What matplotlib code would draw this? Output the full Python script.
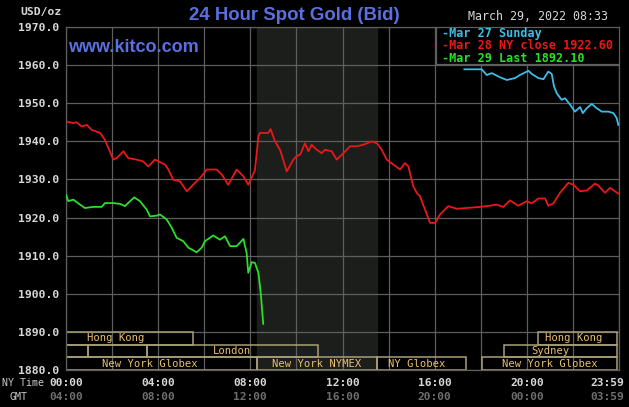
import matplotlib
matplotlib.use('Agg')
import matplotlib.pyplot as plt
from matplotlib.patches import Rectangle
import matplotlib.transforms as mtransforms

# Mar 27 Sunday (evening session only)
sun_hours = [17.29, 18.04, 18.26, 18.48, 18.84, 19.13, 19.49, 19.70, 20.07, 20.21,
             20.50, 20.72, 20.93, 21.08, 21.18, 21.30, 21.51, 21.66, 21.88, 22.09,
             22.31, 22.43, 22.60, 22.82, 23.03, 23.25, 23.54, 23.76, 23.90, 23.97]
sun_prices = [1958.9, 1958.9, 1957.4, 1957.9, 1956.8, 1956.1, 1956.6, 1957.4, 1958.5, 1957.7,
              1956.6, 1956.3, 1958.3, 1957.7, 1954.4, 1952.6, 1950.9, 1951.3, 1949.6, 1947.8,
              1949.0, 1947.4, 1948.7, 1949.8, 1948.7, 1947.8, 1947.8, 1947.4, 1946.1, 1944.3]

# Mar 28 NY close
mon_hours = [0.0, 0.32, 0.46, 0.68, 0.90, 1.12, 1.48, 1.69, 2.05, 2.20,
             2.49, 2.70, 3.07, 3.36, 3.57, 3.86, 4.30, 4.44, 4.66, 4.95,
             5.24, 5.60, 5.82, 6.11, 6.54, 6.76, 7.04, 7.41, 7.70, 7.91,
             8.20, 8.35, 8.42, 8.78, 8.88, 9.07, 9.29, 9.58, 9.87, 10.01,
             10.16, 10.23, 10.37, 10.52, 10.66, 10.88, 11.10, 11.24, 11.53, 11.75,
             12.04, 12.33, 12.62, 12.90, 13.27, 13.49, 13.70, 13.92, 14.21, 14.50,
             14.71, 14.86, 15.07, 15.22, 15.36, 15.58, 15.80, 16.02, 16.23, 16.59,
             16.96, 17.97, 18.40, 18.69, 18.98, 19.27, 19.63, 20.00, 20.21, 20.50,
             20.79, 20.93, 21.15, 21.44, 21.80, 22.02, 22.31, 22.60, 22.96, 23.10,
             23.39, 23.61, 23.97]
mon_prices = [1945.2, 1944.8, 1945.0, 1943.9, 1944.3, 1943.0, 1942.2, 1940.4, 1935.2, 1935.6,
              1937.4, 1935.6, 1935.2, 1934.7, 1933.4, 1935.2, 1933.9, 1932.6, 1929.9, 1929.5,
              1926.9, 1929.1, 1930.4, 1932.6, 1932.6, 1931.3, 1928.6, 1932.6, 1930.8, 1928.6,
              1932.4, 1941.3, 1942.2, 1942.2, 1943.2, 1940.0, 1937.8, 1932.1, 1935.2, 1936.1,
              1936.5, 1937.4, 1939.5, 1937.4, 1939.1, 1937.8, 1936.9, 1937.8, 1937.4, 1935.2,
              1936.9, 1938.7, 1938.7, 1939.1, 1940.0, 1939.5, 1937.8, 1935.2, 1933.9, 1932.6,
              1934.3, 1933.4, 1928.2, 1926.5, 1925.6, 1922.1, 1918.6, 1918.6, 1920.8, 1923.0,
              1922.3, 1922.8, 1923.1, 1923.4, 1922.8, 1924.5, 1923.1, 1924.3, 1923.7, 1925.0,
              1925.0, 1923.1, 1923.7, 1926.5, 1929.1, 1928.6, 1926.9, 1927.1, 1928.9, 1928.4,
              1926.5, 1927.8, 1926.3]

# Mar 29 last
tue_hours = [0.0, 0.10, 0.32, 0.61, 0.82, 1.18, 1.55, 1.69, 2.05, 2.34,
             2.56, 2.78, 2.96, 3.21, 3.50, 3.65, 3.94, 4.08, 4.37, 4.59,
             4.80, 5.09, 5.31, 5.67, 5.89, 6.03, 6.39, 6.68, 6.90, 7.12,
             7.41, 7.70, 7.84, 7.91, 8.06, 8.20, 8.35, 8.45, 8.56]
tue_prices = [1926.0, 1924.3, 1924.7, 1923.4, 1922.5, 1922.8, 1922.8, 1923.8, 1923.8, 1923.6,
              1923.0, 1924.3, 1925.3, 1924.3, 1922.1, 1920.3, 1920.5, 1920.8, 1919.5, 1917.3,
              1914.7, 1913.8, 1912.1, 1910.9, 1912.1, 1913.8, 1915.3, 1914.2, 1915.1, 1912.5,
              1912.5, 1914.4, 1910.7, 1905.5, 1908.3, 1908.1, 1905.5, 1900.3, 1892.1]

series_labels = ['Mar 27 Sunday', 'Mar 28 NY close 1922.60', 'Mar 29 Last 1892.10']
series_colors = ['#3cbde8', '#e81818', '#28e028']

# market sessions: name, row (0 = top), start, end, where the name sits
session_names = ['Hong Kong', 'Hong Kong', '', '', 'London', 'Sydney',
                 'New York Globex', 'New York NYMEX', 'NY Globex', 'New York Globex']
session_rows = [0, 0, 1, 1, 1, 1, 2, 2, 2, 2]
session_start = [0.0, 20.5, 0.0, 0.97, 3.5, 19.0, 0.0, 8.27, 13.48, 18.04]
session_end = [5.5, 23.92, 0.97, 3.5, 10.95, 23.92, 8.27, 13.48, 17.35, 23.92]
session_label_at = [2.15, 22.05, None, None, 7.2, 21.0, 3.65, 10.88, 15.2, 21.0]

nymex_open, nymex_close = 8.3, 13.5

ny_ticks = [0, 4, 8, 12, 16, 20, 23.98]
ny_labels = ['00:00', '04:00', '08:00', '12:00', '16:00', '20:00', '23:59']
gmt_labels = ['04:00', '08:00', '12:00', '16:00', '20:00', '00:00', '03:59']

W, H = 629, 407
AX_L, AX_R, AX_T, AX_B = 66, 619, 27, 370
GRID = '#5e5e5e'
BLUE = '#5a70e0'
MONO = 'DejaVu Sans Mono'

fig = plt.figure(figsize=(W / 100, H / 100), dpi=100, facecolor='black')
ax = fig.add_axes([AX_L / W, 1 - AX_B / H, (AX_R - AX_L) / W, (AX_B - AX_T) / H],
                  facecolor='black')
ax.set_xlim(0, 24)
ax.set_ylim(1880, 1970)

ax.axvspan(nymex_open, nymex_close, color='#1b1e1a', zorder=0)

ax.set_xticks(range(0, 25, 2))
ax.set_yticks(range(1880, 1971, 10))
ax.grid(True, color=GRID, lw=0.9, zorder=1)
ax.tick_params(length=0, labelbottom=False, colors='#d8d8d8')
ax.set_yticklabels(['%.1f' % v for v in range(1880, 1971, 10)],
                   fontfamily=MONO, fontweight='bold', fontsize=8.2)
ax.tick_params(axis='y', pad=5)
for s in ax.spines.values():
    s.set_color(GRID)
    s.set_linewidth(0.9)

for hrs, vals, col in zip([sun_hours, mon_hours, tue_hours],
                          [sun_prices, mon_prices, tue_prices], series_colors):
    ax.plot(hrs, vals, color=col, lw=1.3, zorder=3)

# session bars in the bottom band
row_h = 10 / 3
for name, row, t0, t1, tx in zip(session_names, session_rows, session_start,
                                 session_end, session_label_at):
    y0 = 1890 - (row + 1) * row_h
    ax.add_patch(Rectangle((t0, y0), t1 - t0, row_h, fill=False,
                           edgecolor='#a8a078', lw=1.1, zorder=2))
    if name:
        ax.text(tx, y0 + row_h / 2, name, ha='center', va='center',
                color='#e8c070', fontfamily=MONO, fontsize=7.6, zorder=4)

# legend box, drawn by hand (kitco style: "-Label" in series colour)
def ax_frac(px, py):
    return (px - AX_L) / (AX_R - AX_L), (AX_B - py) / (AX_B - AX_T)

bx, by = ax_frac(436, 64)
ax.add_patch(Rectangle((bx, by), 1 - bx, 1 - by, transform=ax.transAxes,
                       facecolor='black', edgecolor=GRID, lw=0.9, zorder=5))
for i, (lab, col) in enumerate(zip(series_labels, series_colors)):
    tx, ty = ax_frac(442, 33 + 12.5 * i)
    ax.text(tx, ty, '-' + lab, transform=ax.transAxes, ha='left', va='center',
            color=col, fontfamily=MONO, fontweight='bold', fontsize=8.5, zorder=6)

# time axis labels
for i, (h, ny, gmt) in enumerate(zip(ny_ticks, ny_labels, gmt_labels)):
    tr = ax.transData
    if i == len(ny_ticks) - 1:
        tr = tr + mtransforms.ScaledTranslation(-0.11, 0, fig.dpi_scale_trans)
    tr = mtransforms.blended_transform_factory(tr, fig.transFigure)
    ax.text(h, 1 - 383 / H, ny, transform=tr, ha='center', va='center',
            color='#d8d8d8', fontfamily=MONO, fontweight='bold', fontsize=8.1)
    ax.text(h, 1 - 397 / H, gmt, transform=tr, ha='center', va='center',
            color='#6e6e6e', fontfamily=MONO, fontweight='bold', fontsize=8.1)

fig.text(2 / W, 1 - 383 / H, 'NY Time', ha='left', va='center', color='#c8c8c8',
         fontfamily=MONO, fontsize=7.2)
fig.text(10 / W, 1 - 397 / H, 'GMT', ha='left', va='center', color='#c8c8c8',
         fontfamily=MONO, fontsize=7.2)

fig.text(20 / W, 1 - 12 / H, 'USD/oz', ha='left', va='center', color='#d8d8d8',
         fontfamily=MONO, fontweight='bold', fontsize=8.2)
fig.text(294.5 / W, 1 - 15 / H, '24 Hour Spot Gold (Bid)', ha='center', va='center',
         color=BLUE, fontfamily='Liberation Sans', fontweight='bold', fontsize=13.4)
fig.text(68 / W, 1 - 47 / H, 'www.kitco.com', ha='left', va='center', color=BLUE,
         fontfamily='Liberation Sans', fontweight='bold', fontsize=13)
fig.text(608 / W, 1 - 16 / H, 'March 29, 2022 08:33', ha='right', va='center',
         color='#d8d8d8', fontfamily=MONO, fontsize=8.4)

fig.savefig('out.png', dpi=100, facecolor='black')
